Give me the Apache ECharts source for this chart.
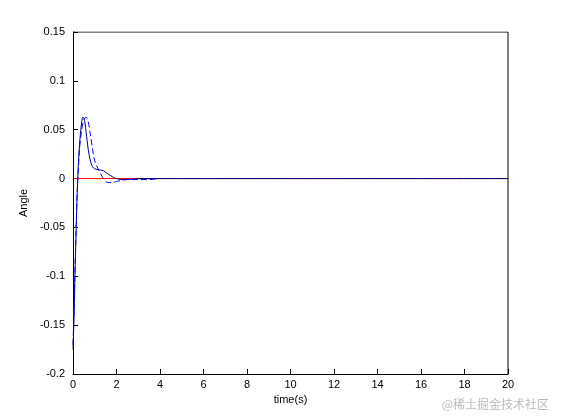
<!DOCTYPE html><html><head><meta charset="utf-8"><script src="https://cdn.jsdelivr.net/npm/echarts@6/dist/echarts.min.js"></script></head><body style="margin:0;background:#fff"><div id="c" style="width:561px;height:420px"></div><script>
const solidT=[0,0.05,0.1,0.15,0.2,0.3,0.4,0.45,0.5,0.55,0.6,0.7,0.8,0.9,1.0,1.2,1.4,1.6,1.8,2.0,2.2,2.5,3,3.5,4,6,10,20];
const solidV=[-0.175,-0.14,-0.09,-0.05,-0.01,0.035,0.058,0.063,0.062,0.057,0.048,0.03,0.018,0.012,0.01,0.009,0.008,0.005,0.002,0.0,-0.001,-0.001,0,0,0,0,0,0];
const dashT=[0,0.05,0.1,0.15,0.2,0.3,0.4,0.5,0.6,0.7,0.8,0.9,1.0,1.2,1.4,1.6,1.8,2.0,2.2,2.5,3,3.5,4];
const dashV=[-0.17,-0.13,-0.085,-0.045,-0.01,0.03,0.05,0.06,0.063,0.058,0.045,0.03,0.018,0.008,0.0,-0.004,-0.004,-0.003,-0.002,-0.001,-0.001,-0.001,0];
const refT=[0,20];const refV=[0,0];
const xTicks=[0,2,4,6,8,10,12,14,16,18,20];
const z=a=>a[0].map((t,i)=>[t,a[1][i]]);
const ch=echarts.init(document.getElementById('c'));
const ax={color:'#000'};
ch.setOption({animation:false,grid:{left:73,right:53,top:32,bottom:46},
xAxis:{type:'value',min:0,max:20,interval:2,name:'time(s)',nameLocation:'middle',nameGap:16,nameTextStyle:{color:'#000',fontSize:11,fontFamily:'Arial'},axisLine:{onZero:false,lineStyle:ax},axisTick:{inside:true,lineStyle:ax},axisLabel:{color:'#000',fontSize:11,fontFamily:'Arial',margin:5},splitLine:{show:false}},
yAxis:{type:'value',min:-0.2,max:0.15,interval:0.05,name:'Angle',nameLocation:'middle',nameGap:36,nameTextStyle:{color:'#000',fontSize:11,fontFamily:'Arial'},axisLine:{lineStyle:ax},axisTick:{inside:true,lineStyle:ax},axisLabel:{color:'#000',fontSize:11,fontFamily:'Arial',formatter:v=>+v.toFixed(2)+''},splitLine:{show:false}},
series:[
{type:'line',data:z([refT,refV]),symbol:'none',lineStyle:{color:'#ff0000',width:1}},
{type:'line',data:z([solidT,solidV]),symbol:'none',smooth:0.3,lineStyle:{color:'#000080',width:1}},
{type:'line',data:z([dashT,dashV]),symbol:'none',smooth:0.3,lineStyle:{color:'#0000ff',width:1,type:[6,3]}},
{type:'line',data:[[0,0.15],[20,0.15]],symbol:'none',silent:true,lineStyle:{color:'#000',width:1}},
{type:'line',data:[[20,-0.2],[20,0.15]],symbol:'none',silent:true,lineStyle:{color:'#000',width:1}}
],
graphic:[{type:'text',right:12,bottom:10,style:{text:'@稀土掘金技术社区',fill:'#bbb',font:'12px "Noto Sans CJK SC"'}}]});
</script></body></html>
